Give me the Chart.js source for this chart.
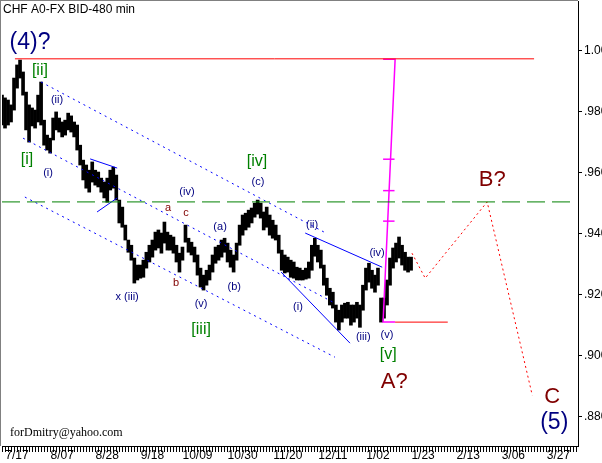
<!DOCTYPE html>
<html><head><meta charset="utf-8">
<script src="https://cdn.jsdelivr.net/npm/chart.js@4.4.1/dist/chart.umd.min.js"></script>
<style>html,body{margin:0;padding:0;background:#fff;overflow:hidden}canvas{display:block}</style>
</head><body>
<canvas id="c" width="602" height="463"></canvas>
<script>
// ---- data (x = trading-day index, y = CHF price) ----
const priceHigh = [
.9854,.9845,.9838,.9822,.9910,.9953,.9969,.9930,.9864,.9822,
.9812,.9805,.9854,.9897,.9772,.9723,.9713,.9779,.9799,.9779,
.9766,.9772,.9795,.9786,.9766,.9756,.9690,.9641,.9625,.9608,
.9635,.9608,.9602,.9582,.9569,.9582,.9608,.9618,.9592,.9510,
.9487,.9428,.9379,.9362,.9320,.9297,.9297,.9313,.9339,.9362,
.9379,.9405,.9412,.9402,.9438,.9405,.9395,.9389,.9362,.9336,
.9356,.9428,.9385,.9372,.9356,.9330,.9287,.9264,.9280,.9297,
.9330,.9356,.9362,.9379,.9385,.9369,.9346,.9330,.9369,.9428,
.9461,.9467,.9477,.9484,.9500,.9510,.9500,.9471,.9487,.9461,
.9444,.9428,.9395,.9346,.9330,.9323,.9313,.9307,.9290,.9287,
.9280,.9287,.9307,.9362,.9385,.9362,.9346,.9297,.9254,.9221,
.9208,.9166,.9149,.9166,.9172,.9175,.9166,.9166,.9175,.9166,
.9231,.9287,.9303,.9280,.9264,.9287,.9189,.9189,.9248,.9320,
.9353,.9369,.9389,.9362,.9339,.9323,.9323];
const priceLow = [
.9756,.9746,.9756,.9766,.9805,.9877,.9910,.9854,.9740,.9700,
.9753,.9746,.9766,.9756,.9690,.9674,.9664,.9707,.9740,.9733,
.9717,.9723,.9740,.9733,.9717,.9674,.9625,.9576,.9549,.9536,
.9569,.9559,.9553,.9536,.9517,.9503,.9543,.9549,.9510,.9435,
.9421,.9379,.9339,.9313,.9238,.9248,.9254,.9257,.9287,.9307,
.9323,.9346,.9353,.9336,.9369,.9346,.9346,.9336,.9307,.9274,
.9313,.9372,.9339,.9330,.9307,.9264,.9225,.9215,.9231,.9248,
.9274,.9303,.9313,.9323,.9339,.9307,.9290,.9274,.9313,.9362,
.9395,.9412,.9421,.9435,.9454,.9464,.9451,.9412,.9421,.9395,
.9385,.9379,.9336,.9280,.9271,.9274,.9257,.9254,.9248,.9248,
.9248,.9251,.9254,.9280,.9326,.9307,.9287,.9231,.9198,.9166,
.9156,.9110,.9084,.9110,.9123,.9123,.9100,.9110,.9123,.9093,
.9149,.9215,.9241,.9221,.9208,.9231,.9110,.9123,.9166,.9231,
.9287,.9307,.9320,.9297,.9280,.9274,.9280];

const dateLabels = ['7/17','8/07','8/28','9/18','10/09','10/30','11/20','12/11','1/02','1/23','2/13','3/06','3/27'];
const dateLabelDays = [5,20,35,50,65,80,95,110,125,140,155,170,185];
const priceTicks = [0.88,0.90,0.92,0.94,0.96,0.98,1.00];
const priceTickLabels = ['.880','.900','.920','.940','.960','.980','1.00'];

// wave-analysis lines (trading day, price)
const peakLevel     = [[4.3,0.9973],[176.9,0.9973]];
const targetLevel   = [[0,0.9504],[189.6,0.9504]];
const channelUpper  = [[13.0,0.9897],[107.1,0.9405]];
const channelMid    = [[7.0,0.9713],[110.1,0.9175]];
const channelLow    = [[7.6,0.9520],[110.7,0.8995]];
const wedgeTop      = [[29.3,0.9645],[38.3,0.9615]];
const wedgeBottom   = [[31.6,0.9471],[38.3,0.9517]];
const trendTop      = [[100.8,0.9402],[126.4,0.9290]];
const trendBottom   = [[92.8,0.9274],[115.7,0.9041]];
const impulseLeg    = [[126.7,0.9110],[130.7,0.9110],[130.7,0.9110],[126.7,0.9110],[130.7,0.9972],[126.7,0.9972]];
const fibLevels     = [0.9644,0.9541,0.9441];
const fibSpan       = [126.7,130.5];
const waveALevel    = [[130.7,0.9110],[148.2,0.9110]];
const forecastPath  = [[136.3,0.9336],[140.7,0.9254],[161.3,0.9504],[176.3,0.8870]];

const waveLabels = [
 {t:'(4)?',d:9.3,p:1.0025,s:'bigNavy'},
 {t:'[ii]',d:12.6,p:0.9936,s:'deg'},
 {t:'(ii)',d:18.3,p:0.9838,s:'wave'},
 {t:'[i]',d:8.3,p:0.9644,s:'deg'},
 {t:'(i)',d:15.3,p:0.9599,s:'wave'},
 {t:'(iv)',d:61.5,p:0.9536,s:'wave'},
 {t:'a',d:55.2,p:0.9484,s:'abc'},
 {t:'c',d:61.2,p:0.9467,s:'abc'},
 {t:'x (iii)',d:41.6,p:0.9192,s:'wave'},
 {t:'b',d:57.9,p:0.9238,s:'abc'},
 {t:'(a)',d:72.5,p:0.9421,s:'wave'},
 {t:'(b)',d:77.2,p:0.9225,s:'wave'},
 {t:'(v)',d:66.2,p:0.9169,s:'wave'},
 {t:'[iii]',d:66.2,p:0.9087,s:'deg'},
 {t:'[iv]',d:84.8,p:0.9635,s:'deg'},
 {t:'(c)',d:85.1,p:0.9569,s:'wave'},
 {t:'(ii)',d:103.1,p:0.9428,s:'wave'},
 {t:'(i)',d:98.4,p:0.9159,s:'wave'},
 {t:'(iii)',d:120.1,p:0.9061,s:'wave'},
 {t:'(iv)',d:124.7,p:0.9336,s:'wave'},
 {t:'(v)',d:128.0,p:0.9067,s:'wave'},
 {t:'[v]',d:128.4,p:0.9002,s:'deg'},
 {t:'A?',d:130.4,p:0.8913,s:'big'},
 {t:'B?',d:163.0,p:0.9576,s:'big'},
 {t:'C',d:182.9,p:0.8864,s:'big'},
 {t:'(5)',d:183.6,p:0.8782,s:'bigNavy'}
];

// ---- styles ----
const FONT = '"Liberation Sans", Arial, sans-serif';
const labelStyles = {
  wave:{font:'11px '+FONT,color:'#000080'},
  deg:{font:'16px '+FONT,color:'#008000'},
  abc:{font:'11px '+FONT,color:'#800000'},
  big:{font:'22px '+FONT,color:'#800000'},
  bigNavy:{font:'23px '+FONT,color:'#000080'}
};
const toXY = arr => arr.map(([x,y])=>({x,y}));
const seg = (pts,color,dash,w) => ({type:'line',data:toXY(pts),borderColor:color,borderWidth:w||1,borderDash:dash||[],pointRadius:0,fill:false,tension:0,order:1,clip:false});

const datasets = [
  {type:'bar',data:priceHigh.map((h,i)=>({x:i,y:[priceLow[i],h]})),backgroundColor:'#000',borderWidth:0,barThickness:3,grouped:false,order:10},
  seg(peakLevel,'#ff0000'),
  seg(targetLevel,'#008000',[18,7]),
  seg(channelUpper,'#0000ff',[2,4]),
  seg(channelMid,'#0000ff',[2,4]),
  seg(channelLow,'#0000ff',[2,4]),
  seg(wedgeTop,'#0000ff'),
  seg(wedgeBottom,'#0000ff'),
  seg(trendTop,'#0000ff'),
  seg(trendBottom,'#0000ff'),
  seg(waveALevel,'#ff0000'),
  seg(forecastPath,'#ff0000',[2,3]),
  seg(impulseLeg,'#ff00ff',[],1.5),
  ...fibLevels.map(v=>seg([[fibSpan[0],v],[fibSpan[1],v]],'#ff00ff',[],1.5))
];

const overlay = {
  id:'overlay',
  afterDatasetsDraw(chart){
    const {ctx,scales:{x,y}} = chart;
    ctx.save();
    ctx.textAlign='center'; ctx.textBaseline='middle';
    for(const a of waveLabels){
      const st = labelStyles[a.s];
      ctx.font = st.font; ctx.fillStyle = st.color;
      ctx.fillText(a.t, x.getPixelForValue(a.d), y.getPixelForValue(a.p));
    }
    ctx.textAlign='left';
    ctx.fillStyle='#000';
    ctx.font='12px '+FONT;
    ctx.fillText('CHF A0-FX BID-480 min',3,10);
    ctx.font='12px "Liberation Serif", "Times New Roman", serif';
    ctx.fillText('forDmitry@yahoo.com',10,433);
    ctx.strokeStyle='#808080'; ctx.lineWidth=1;
    ctx.beginPath(); ctx.moveTo(0.5,0); ctx.lineTo(0.5,446); ctx.moveTo(0,0.5); ctx.lineTo(578,0.5); ctx.stroke();
    ctx.restore();
  }
};

Chart.defaults.font.family = FONT;
Chart.defaults.color = '#000';
new Chart(document.getElementById('c'),{
  type:'bar',
  data:{datasets},
  options:{
    responsive:false, animation:false, devicePixelRatio:1,
    layout:{padding:{left:2,top:1,right:0,bottom:0}},
    plugins:{legend:{display:false},tooltip:{enabled:false}},
    scales:{
      x:{type:'linear',position:'bottom',min:0,max:191.5,offset:false,
        grid:{offset:false,drawOnChartArea:false,drawTicks:true,tickLength:6,color:'#000',lineWidth:1},
        border:{display:true,color:'#000',width:1},
        afterBuildTicks:s=>{const t=[];for(let d=0;d<=191;d++)t.push({value:d});s.ticks=t;},
        ticks:{autoSkip:false,maxRotation:0,minRotation:0,padding:-4,font:{size:12},color:'#000',
          callback:v=>{const i=dateLabelDays.indexOf(v);return i>=0?dateLabels[i]:'';}},
        afterFit:s=>{s.height=17;s.paddingLeft=0;s.paddingRight=0;}
      },
      y:{type:'linear',position:'right',min:0.87039,max:1.01626,
        grid:{drawOnChartArea:false,drawTicks:true,tickLength:4,color:'#000'},
        border:{display:true,color:'#000',width:1},
        afterBuildTicks:s=>{s.ticks=priceTicks.map(v=>({value:v}));},
        ticks:{padding:2,font:{size:12},color:'#000',
          callback:(v,i)=>priceTickLabels[i]},
        afterFit:s=>{s.width=24;s.paddingTop=0;s.paddingBottom=0;}
      }
    }
  },
  plugins:[overlay]
});
</script></body></html>
